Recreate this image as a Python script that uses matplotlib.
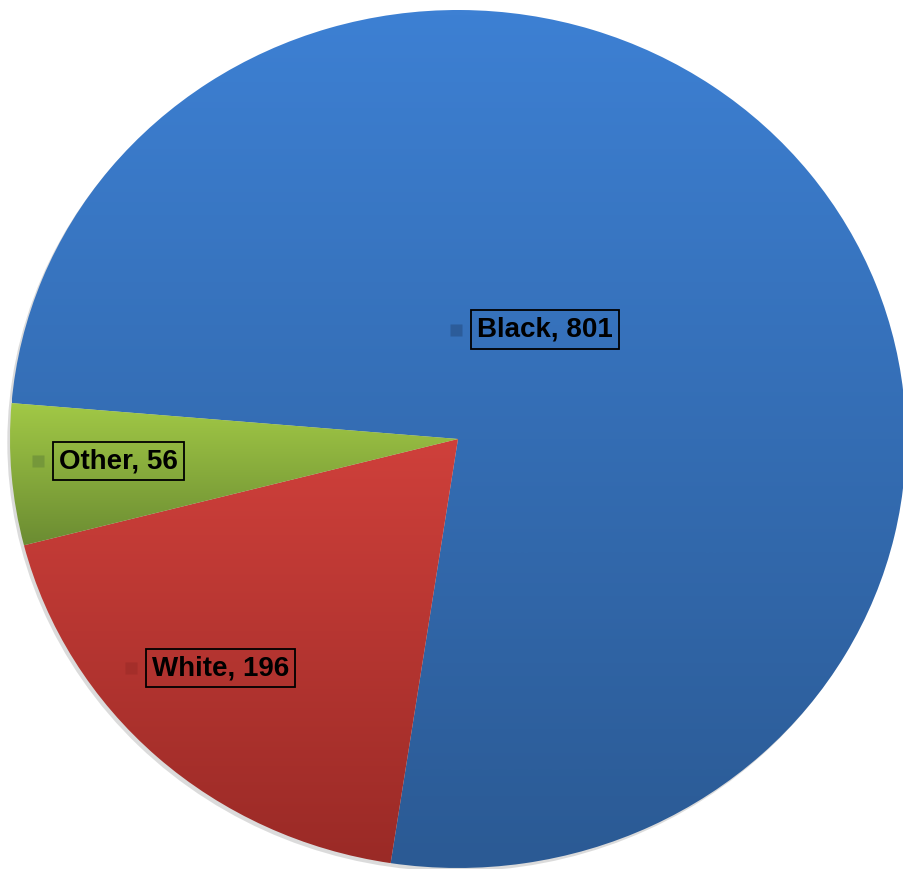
import numpy as np
import matplotlib
matplotlib.use("Agg")
import matplotlib.pyplot as plt
from matplotlib.colors import LinearSegmentedColormap
from matplotlib.patches import Ellipse

# Data
categories = ["Black", "White", "Other"]
values = [801, 196, 56]

# Gradient colours (top, bottom) per slice
grad_colors = [("#3D80D3", "#2B5A94"),
               ("#CF403B", "#9A2A26"),
               ("#A2C946", "#6B8C32")]
key_colors = ["#2C5C9A", "#A42E2A", "#75983A"]

# Label anchors (left edge of text, vertical centre) in pie units
label_pos = [(0.042, 0.255), (-0.683, -0.534), (-0.891, -0.052)]

fig = plt.figure(figsize=(9.04, 8.69), dpi=100)
ax = fig.add_axes([0, 0, 1, 1])

# soft shadow
ax.add_patch(Ellipse((-0.006, -0.008), 2.0, 2.0, fc="#9a9a9a", ec="none",
                     alpha=0.35, zorder=0))

wedges, _ = ax.pie(values, startangle=175.2, counterclock=False,
                   radius=1, center=(0, 0),
                   wedgeprops=dict(linewidth=0, edgecolor="none"))

for w, (top, bottom) in zip(wedges, grad_colors):
    w.set_facecolor("none")
    ext = w.get_path().get_extents()
    cmap = LinearSegmentedColormap.from_list("g", [top, bottom])
    grad = np.linspace(0, 1, 256).reshape(-1, 1)
    im = ax.imshow(grad, extent=[ext.x0, ext.x1, ext.y0, ext.y1],
                   origin="upper", cmap=cmap, aspect="auto", zorder=1,
                   interpolation="bilinear")
    im.set_clip_path(w)

for cat, val, (lx, ly), kc in zip(categories, values, label_pos, key_colors):
    ax.text(lx, ly, f"{cat}, {val}", ha="left", va="center",
            fontsize=20, fontweight="bold", family="Liberation Sans",
            color="black", zorder=5,
            bbox=dict(boxstyle="square,pad=0.22", fc="none", ec="black", lw=1.3))
    ax.plot(lx - 0.047, ly, marker="s", ms=8, color=kc, mec="none", zorder=5)

# map pie onto the (slightly elliptical) pixel layout
ax.set_aspect("auto")
ax.set_xlim(-458 / 448, 446 / 448)
ax.set_ylim(-430 / 429, 439 / 429)
ax.axis("off")

fig.savefig("out.png", dpi=100, facecolor="white")
